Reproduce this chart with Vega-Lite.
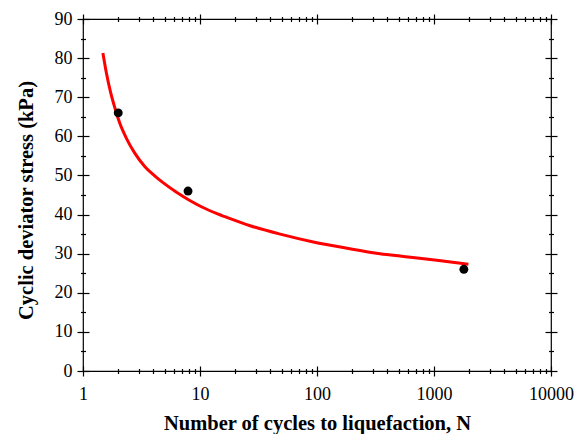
{
  "$schema": "https://vega.github.io/schema/vega-lite/v6.json",
  "autosize": "none",
  "width": 468,
  "height": 352,
  "padding": {"left": 83, "top": 19, "right": 34, "bottom": 63},
  "background": "white",
  "config": {
    "view": {"stroke": "black", "strokeWidth": 1.2},
    "axis": {
      "grid": false, "domain": false, "tickColor": "black", "tickWidth": 1.2, "labelFlush": false, "labelOverlap": false,
      "labelFont": "Liberation Serif", "labelFontSize": 18, "labelColor": "black",
      "titleFont": "Liberation Serif", "titleFontSize": 20.5, "titleFontWeight": "bold", "titleColor": "black"
    }
  },
  "datasets": {
    "curve": [
      {"N": 1.48, "stress": 81.3},
      {"N": 1.585, "stress": 76.2},
      {"N": 1.726, "stress": 71.1},
      {"N": 1.893, "stress": 66.8},
      {"N": 2.06, "stress": 63.4},
      {"N": 2.35, "stress": 59.5},
      {"N": 2.77, "stress": 55.7},
      {"N": 3.37, "stress": 52.3},
      {"N": 4.1, "stress": 49.9},
      {"N": 4.83, "stress": 48.15},
      {"N": 6.3, "stress": 45.7},
      {"N": 8.18, "stress": 43.6},
      {"N": 10.6, "stress": 41.8},
      {"N": 13.8, "stress": 40.3},
      {"N": 17.4, "stress": 39.15},
      {"N": 26.8, "stress": 37.15},
      {"N": 48.4, "stress": 35.0},
      {"N": 93, "stress": 33.0},
      {"N": 180, "stress": 31.4},
      {"N": 346, "stress": 30.0},
      {"N": 547, "stress": 29.3},
      {"N": 1057, "stress": 28.3},
      {"N": 1968, "stress": 27.3}
    ],
    "obs": [
      {"N": 2, "stress": 66},
      {"N": 7.9, "stress": 46},
      {"N": 1800, "stress": 26}
    ]
  },
  "resolve": {"axis": {"x": "independent", "y": "independent"}},
  "layer": [
    {
      "data": {"name": "curve"},
      "mark": {"type": "line", "color": "#ff0000", "strokeWidth": 3, "interpolate": "monotone"},
      "encoding": {
        "x": {"field": "N", "type": "quantitative",
          "scale": {"type": "log", "domain": [1, 10000], "nice": false},
          "axis": {"orient": "bottom", "values": [1, 10, 100, 1000, 10000], "format": "d",
            "tickSize": 10, "offset": -5, "labelPadding": 9, "title": "Number of cycles to liquefaction, N", "titlePadding": 10}},
        "y": {"field": "stress", "type": "quantitative",
          "scale": {"domain": [0, 90], "nice": false},
          "axis": {"orient": "left", "values": [0, 10, 20, 30, 40, 50, 60, 70, 80, 90],
            "tickSize": 12, "offset": -6, "labelPadding": 5, "title": "Cyclic deviator stress (kPa)", "titlePadding": 18, "titleY": 181}}
      }
    },
    {
      "data": {"name": "obs"},
      "mark": {"type": "point", "filled": true, "color": "black", "opacity": 1, "size": 80},
      "encoding": {
        "x": {"field": "N", "type": "quantitative",
          "scale": {"type": "log", "domain": [1, 10000], "nice": false},
          "axis": {"orient": "bottom", "values": [2, 3, 4, 5, 6, 7, 8, 9, 20, 30, 40, 50, 60, 70, 80, 90, 200, 300, 400, 500, 600, 700, 800, 900, 2000, 3000, 4000, 5000, 6000, 7000, 8000, 9000],
            "tickSize": 5, "offset": -2.5, "labels": false, "title": null}},
        "y": {"field": "stress", "type": "quantitative",
          "scale": {"domain": [0, 90], "nice": false},
          "axis": {"orient": "left", "values": [5, 15, 25, 35, 45, 55, 65, 75, 85],
            "tickSize": 5, "offset": -2.5, "labels": false, "title": null}}
      }
    },
    {
      "data": {"name": "obs"},
      "mark": {"type": "point", "opacity": 0},
      "encoding": {
        "x": {"field": "N", "type": "quantitative",
          "scale": {"type": "log", "domain": [1, 10000], "nice": false},
          "axis": {"orient": "top", "values": [1, 10, 100, 1000, 10000],
            "tickSize": 10, "offset": -5, "labels": false, "title": null}},
        "y": {"field": "stress", "type": "quantitative",
          "scale": {"domain": [0, 90], "nice": false},
          "axis": {"orient": "right", "values": [0, 10, 20, 30, 40, 50, 60, 70, 80, 90],
            "tickSize": 12, "offset": -6, "labels": false, "title": null}}
      }
    },
    {
      "data": {"name": "obs"},
      "mark": {"type": "point", "opacity": 0},
      "encoding": {
        "x": {"field": "N", "type": "quantitative",
          "scale": {"type": "log", "domain": [1, 10000], "nice": false},
          "axis": {"orient": "top", "values": [2, 3, 4, 5, 6, 7, 8, 9, 20, 30, 40, 50, 60, 70, 80, 90, 200, 300, 400, 500, 600, 700, 800, 900, 2000, 3000, 4000, 5000, 6000, 7000, 8000, 9000],
            "tickSize": 5, "offset": -2.5, "labels": false, "title": null}},
        "y": {"field": "stress", "type": "quantitative",
          "scale": {"domain": [0, 90], "nice": false},
          "axis": {"orient": "right", "values": [5, 15, 25, 35, 45, 55, 65, 75, 85],
            "tickSize": 5, "offset": -2.5, "labels": false, "title": null}}
      }
    }
  ]
}
